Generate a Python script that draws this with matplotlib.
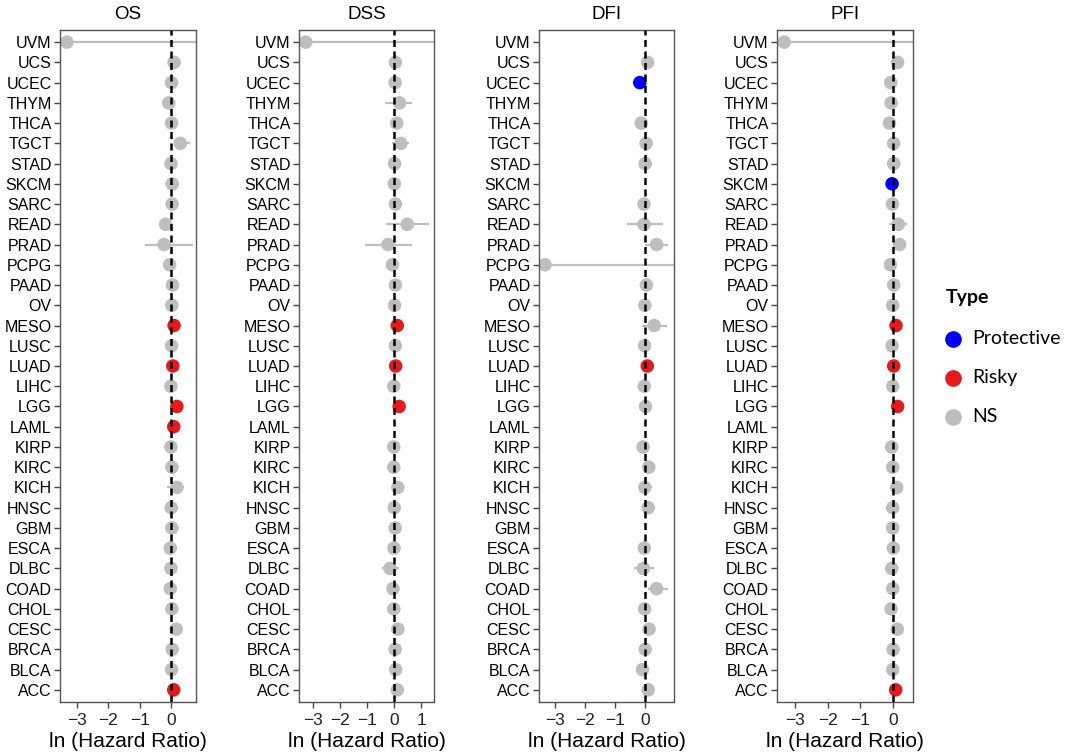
import numpy as np
import matplotlib
matplotlib.use("Agg")
import matplotlib.pyplot as plt
from matplotlib.lines import Line2D

plt.rcParams['font.family'] = ['Liberation Sans', 'DejaVu Sans']

# cancer types, bottom (ACC) to top (UVM)
cancers = ["ACC", "BLCA", "BRCA", "CESC", "CHOL", "COAD", "DLBC", "ESCA", "GBM",
           "HNSC", "KICH", "KIRC", "KIRP", "LAML", "LGG", "LIHC", "LUAD", "LUSC",
           "MESO", "OV", "PAAD", "PCPG", "PRAD", "READ", "SARC", "SKCM", "STAD",
           "TGCT", "THCA", "THYM", "UCEC", "UCS", "UVM"]
nan = np.nan

# ln(HR) per panel, same order as cancers
os_hr = [0.09, 0.02, 0.04, 0.17, 0.03, -0.02, 0.00, -0.02, 0.03, 0.01, 0.19, 0.03,
         0.00, 0.09, 0.19, 0.00, 0.06, 0.02, 0.10, 0.03, 0.05, -0.04, -0.22, -0.17,
         0.04, 0.04, 0.00, 0.30, 0.02, -0.07, 0.02, 0.10, -3.32]
dss_hr = [0.12, 0.06, 0.04, 0.14, -0.01, -0.04, -0.15, 0.00, 0.04, 0.01, 0.14, -0.01,
          -0.01, nan, 0.19, -0.01, 0.06, 0.05, 0.12, 0.02, 0.05, -0.06, -0.22, 0.49,
          0.05, 0.01, 0.02, 0.25, 0.10, 0.20, 0.04, 0.05, -3.27]
dfi_hr = [0.10, -0.09, 0.00, 0.13, -0.02, 0.38, -0.06, -0.03, nan, 0.10, -0.01, 0.12,
          -0.07, nan, 0.01, -0.03, 0.07, -0.02, 0.30, -0.01, 0.04, -3.34, 0.38, -0.04,
          -0.04, nan, 0.00, 0.03, -0.13, nan, -0.18, 0.08, nan]
pfi_hr = [0.08, -0.01, 0.00, 0.13, -0.06, -0.01, -0.04, 0.01, -0.01, -0.01, 0.11, -0.01,
          -0.04, nan, 0.14, -0.01, 0.02, -0.03, 0.09, -0.01, 0.02, -0.08, 0.20, 0.16,
          -0.02, -0.03, 0.02, 0.02, -0.11, -0.06, -0.07, 0.14, -3.33]

# visible confidence intervals (others are hidden under the dots)
os_ci = {"UVM": (-3.32, 3.0), "TGCT": (0.09, 0.60), "PRAD": (-0.83, 0.72), "KICH": (-0.13, 0.43)}
dss_ci = {"UVM": (-3.27, 3.0), "THYM": (-0.32, 0.65), "TGCT": (-0.06, 0.56), "READ": (-0.30, 1.31),
          "PRAD": (-1.09, 0.65), "KICH": (-0.09, 0.37), "DLBC": (-0.46, 0.20)}
dfi_ci = {"THCA": (-0.33, 0.11), "READ": (-0.61, 0.58), "PRAD": (0.00, 0.76), "PCPG": (-3.34, 3.0),
          "MESO": (-0.11, 0.72), "KICH": (-0.17, 0.22), "DLBC": (-0.36, 0.28), "COAD": (0.11, 0.76)}
pfi_ci = {"UVM": (-3.33, 3.0), "READ": (-0.13, 0.43)}

# significance type: P = protective, R = risky, N = not significant
os_type = "RNNNNNNNNNNNNRRNRNRNNNNNNNNNNNNNN"
dss_type = "NNNNNNNNNNNNNNRNRNRNNNNNNNNNNNNNN"
dfi_type = "NNNNNNNNNNNNNNNNRNNNNNNNNNNNNNPNN"
pfi_type = "RNNNNNNNNNNNNNRNRNRNNNNNNPNNNNNNN"

titles = ["OS", "DSS", "DFI", "PFI"]
colors = {"P": "#0000FF", "R": "#E41A1C", "N": "#BEBEBE"}
legend_labels = ["Protective", "Risky", "NS"]

W, H = 1065, 755
fig = plt.figure(figsize=(W / 100, H / 100), dpi=100)

# panel boxes in pixels: left, width, xlim
panels = [
    (os_hr, os_ci, os_type, 60, 136, (-3.54, 0.80), [-3, -2, -1, 0]),
    (dss_hr, dss_ci, dss_type, 299, 135, (-3.52, 1.48), [-3, -2, -1, 0, 1]),
    (dfi_hr, dfi_ci, dfi_type, 539, 135, (-3.54, 0.96), [-3, -2, -1, 0]),
    (pfi_hr, pfi_ci, pfi_type, 777, 136, (-3.55, 0.61), [-3, -2, -1, 0]),
]
top, bottom = 30, 702
y = np.arange(len(cancers))

for (hr, ci, types, left, width, xlim, xt), title in zip(panels, titles):
    ax = fig.add_axes([left / W, 1 - bottom / H, width / W, (bottom - top) / H])
    for name, (lo, hi) in ci.items():
        i = cancers.index(name)
        ax.plot([lo, hi], [i, i], color="#BEBEBE", lw=1.6, zorder=1, solid_capstyle="butt")
    hr = np.array(hr, dtype=float)
    cols = [colors[t] for t in types]
    ok = ~np.isnan(hr)
    ax.scatter(hr[ok], y[ok], s=95, c=np.array(cols)[ok], edgecolors="none", zorder=2)
    ax.axvline(0, color="black", lw=1.8, ls=(0, (2.8, 1.8)), zorder=3)
    ax.set_xlim(*xlim)
    ax.set_ylim(-0.6, len(cancers) - 0.4)
    ax.set_yticks(y)
    ax.set_yticklabels(cancers, fontsize=11.5, color="black")
    ax.set_xticks(xt)
    ax.set_xticklabels(["\u2212%d" % -v if v < 0 else str(v) for v in xt], fontsize=12.5, color="#222222")
    ax.tick_params(length=4, width=1, color="#444444", pad=2)
    ax.tick_params(axis="x", pad=4)
    for s in ax.spines.values():
        s.set_color("#555555")
        s.set_linewidth(1)
    ax.set_xlabel("ln (Hazard Ratio)", fontsize=15, labelpad=3)
    ax.set_title(title, fontsize=13.5, pad=8)

# legend drawn by hand in pixel positions
lf = {"family": ["Lato", "DejaVu Sans"], "size": 14}
fig.text(946 / W, 1 - 297 / H, "Type", va="center", ha="left", fontweight="bold", **lf)
for k, lab, py in zip("PRN", legend_labels, [339, 378, 417]):
    fig.add_artist(Line2D([953 / W], [1 - py / H], ls="none", marker="o", ms=12, mec="none",
                          mfc=colors[k], transform=fig.transFigure))
    fig.text(972 / W, 1 - py / H, lab, va="center", ha="left", **lf)

fig.savefig("out.png", dpi=100)
